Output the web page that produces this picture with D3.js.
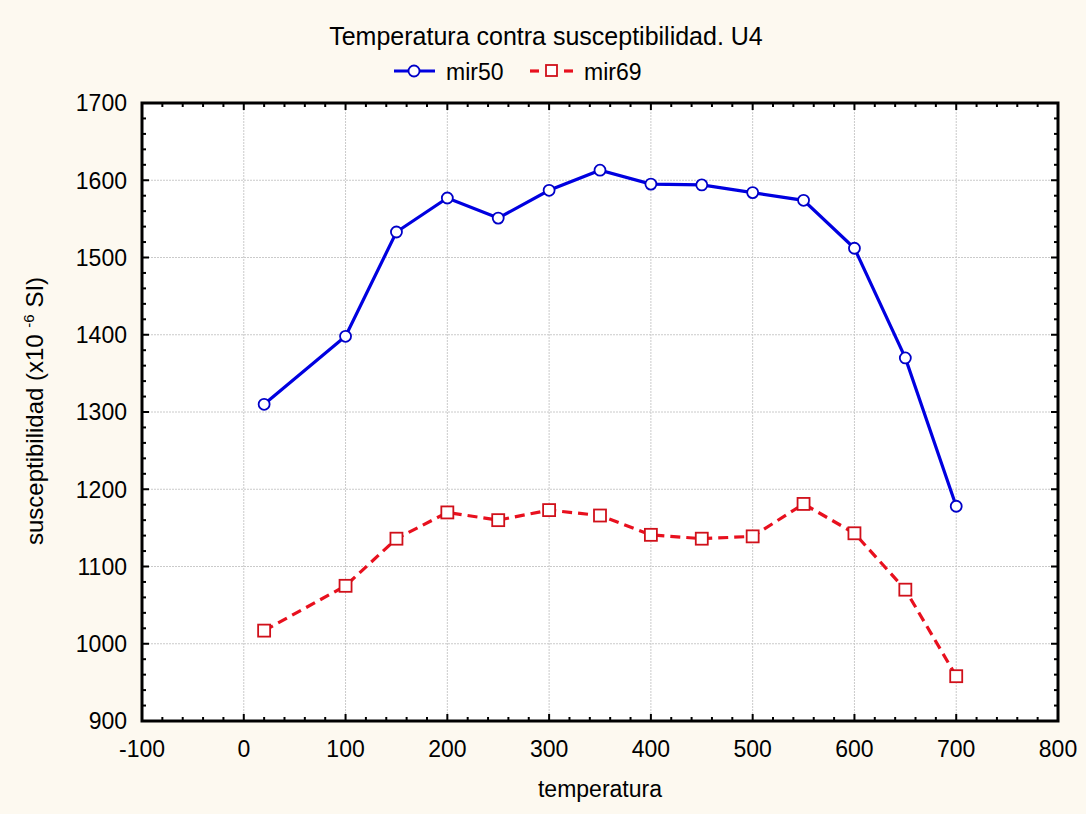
<!DOCTYPE html>
<html>
<head>
<meta charset="utf-8">
<script src="https://cdn.jsdelivr.net/npm/d3@7"></script>
<style>
  html, body { margin: 0; padding: 0; background: #fdf9f0; }
  svg { display: block; font-family: "Liberation Sans", Arial, sans-serif; }
</style>
</head>
<body>
<div id="chart"></div>
<script>
/* data */
const temps = [20, 100, 150, 200, 250, 300, 350, 400, 450, 500, 550, 600, 650, 700];
const mir50 = [1310, 1398, 1533, 1577, 1551, 1587, 1613, 1595, 1594, 1584, 1574, 1512, 1370, 1178];
const mir69 = [1017, 1075, 1136, 1170, 1160, 1173, 1166, 1141, 1136, 1139, 1181, 1143, 1070, 958];
const xTicks = [-100, 0, 100, 200, 300, 400, 500, 600, 700, 800];
const yTicks = [900, 1000, 1100, 1200, 1300, 1400, 1500, 1600, 1700];
const seriesNames = ['mir50', 'mir69'];

const W = 1086, H = 814;
const m = { left: 142, top: 103, right: 1058, bottom: 721 };
const FS = 23;

const svg = d3.select('#chart').append('svg').attr('width', W).attr('height', H);
svg.append('rect').attr('width', W).attr('height', H).attr('fill', '#fdf9f0');

const x = d3.scaleLinear().domain([-100, 800]).range([m.left, m.right]);
const y = d3.scaleLinear().domain([900, 1700]).range([m.bottom, m.top]);

svg.append('rect')
  .attr('x', m.left).attr('y', m.top)
  .attr('width', m.right - m.left).attr('height', m.bottom - m.top)
  .attr('fill', '#fff');

/* grid */
const grid = svg.append('g').attr('stroke', '#cacaca').attr('stroke-width', 1).attr('stroke-dasharray', '2,1');
grid.selectAll('.gx').data(xTicks.slice(1, -1)).join('line')
  .attr('x1', d => x(d)).attr('x2', d => x(d)).attr('y1', m.top).attr('y2', m.bottom);
grid.selectAll('.gy').data(yTicks.slice(1, -1)).join('line')
  .attr('y1', d => y(d)).attr('y2', d => y(d)).attr('x1', m.left).attr('x2', m.right);

/* minor + major inward ticks on all sides */
const xMinor = d3.range(-100, 801, 20);
const yMinor = d3.range(900, 1701, 20);
const tickG = svg.append('g').attr('stroke', '#000').attr('stroke-width', 2);
const isMaj = d => d % 100 === 0;
tickG.selectAll('.tb').data(xMinor).join('line')
  .attr('x1', d => x(d)).attr('x2', d => x(d))
  .attr('y1', m.bottom).attr('y2', d => m.bottom - (isMaj(d) ? 7 : 4));
tickG.selectAll('.tt').data(xMinor).join('line')
  .attr('x1', d => x(d)).attr('x2', d => x(d))
  .attr('y1', m.top).attr('y2', d => m.top + (isMaj(d) ? 7 : 4));
tickG.selectAll('.tl').data(yMinor).join('line')
  .attr('y1', d => y(d)).attr('y2', d => y(d))
  .attr('x1', m.left).attr('x2', d => m.left + (isMaj(d) ? 7 : 4));
tickG.selectAll('.tr').data(yMinor).join('line')
  .attr('y1', d => y(d)).attr('y2', d => y(d))
  .attr('x1', m.right).attr('x2', d => m.right - (isMaj(d) ? 7 : 4));

/* frame */
svg.append('rect')
  .attr('x', m.left).attr('y', m.top)
  .attr('width', m.right - m.left).attr('height', m.bottom - m.top)
  .attr('fill', 'none').attr('stroke', '#000').attr('stroke-width', 3);

/* tick labels */
svg.append('g').selectAll('text').data(xTicks).join('text')
  .attr('x', d => x(d)).attr('y', 757)
  .attr('text-anchor', 'middle').attr('font-size', FS).attr('fill', '#000')
  .text(d => d);
svg.append('g').selectAll('text').data(yTicks).join('text')
  .attr('x', 127).attr('y', d => y(d)).attr('dy', '.36em')
  .attr('text-anchor', 'end').attr('font-size', FS).attr('fill', '#000')
  .text(d => d);

/* axis titles */
svg.append('text').attr('x', (m.left + m.right) / 2).attr('y', 797)
  .attr('text-anchor', 'middle').attr('font-size', FS).text('temperatura');
const yl = svg.append('text')
  .attr('transform', `translate(43,411) rotate(-90)`)
  .attr('text-anchor', 'middle').attr('font-size', 24);
yl.append('tspan').text('susceptibilidad (x10 ');
yl.append('tspan').attr('dy', -9).attr('font-size', 15).text('-6');
yl.append('tspan').attr('dy', 9).text(' SI)');

/* title */
svg.append('text').attr('x', 546).attr('y', 45)
  .attr('text-anchor', 'middle').attr('font-size', 25).text('Temperatura contra susceptibilidad. U4');

/* series */
const line = d3.line().x(d => x(d[0])).y(d => y(d[1]));
const d50 = temps.map((t, i) => [t, mir50[i]]);
const d69 = temps.map((t, i) => [t, mir69[i]]);

svg.append('path').datum(d50).attr('d', line)
  .attr('fill', 'none').attr('stroke', '#0000e0').attr('stroke-width', 3.2);
svg.append('g').selectAll('circle').data(d50).join('circle')
  .attr('cx', d => x(d[0])).attr('cy', d => y(d[1])).attr('r', 5.5)
  .attr('fill', '#fff').attr('stroke', '#0000c8').attr('stroke-width', 1.8);

svg.append('path').datum(d69).attr('d', line)
  .attr('fill', 'none').attr('stroke', '#e8101e').attr('stroke-width', 3.2)
  .attr('stroke-dasharray', '10,6');
svg.append('g').selectAll('rect').data(d69).join('rect')
  .attr('x', d => x(d[0]) - 6).attr('y', d => y(d[1]) - 6)
  .attr('width', 12).attr('height', 12)
  .attr('fill', '#fff').attr('stroke', '#d0101a').attr('stroke-width', 1.8);

/* legend */
const lg = svg.append('g');
lg.append('line').attr('x1', 394).attr('x2', 435).attr('y1', 71).attr('y2', 71)
  .attr('stroke', '#0000e0').attr('stroke-width', 3.2);
lg.append('circle').attr('cx', 414).attr('cy', 71).attr('r', 5.5)
  .attr('fill', '#fff').attr('stroke', '#0000c8').attr('stroke-width', 1.8);
lg.append('text').attr('x', 446).attr('y', 80).attr('font-size', FS).text(seriesNames[0]);
[[530, 539], [564, 573]].forEach(s => {
  lg.append('line').attr('x1', s[0]).attr('x2', s[1]).attr('y1', 71).attr('y2', 71)
    .attr('stroke', '#e8101e').attr('stroke-width', 3.2);
});
lg.append('rect').attr('x', 546).attr('y', 65).attr('width', 11).attr('height', 11)
  .attr('fill', '#fff').attr('stroke', '#d0101a').attr('stroke-width', 1.8);
lg.append('text').attr('x', 584).attr('y', 80).attr('font-size', FS).text(seriesNames[1]);
</script>
</body>
</html>
